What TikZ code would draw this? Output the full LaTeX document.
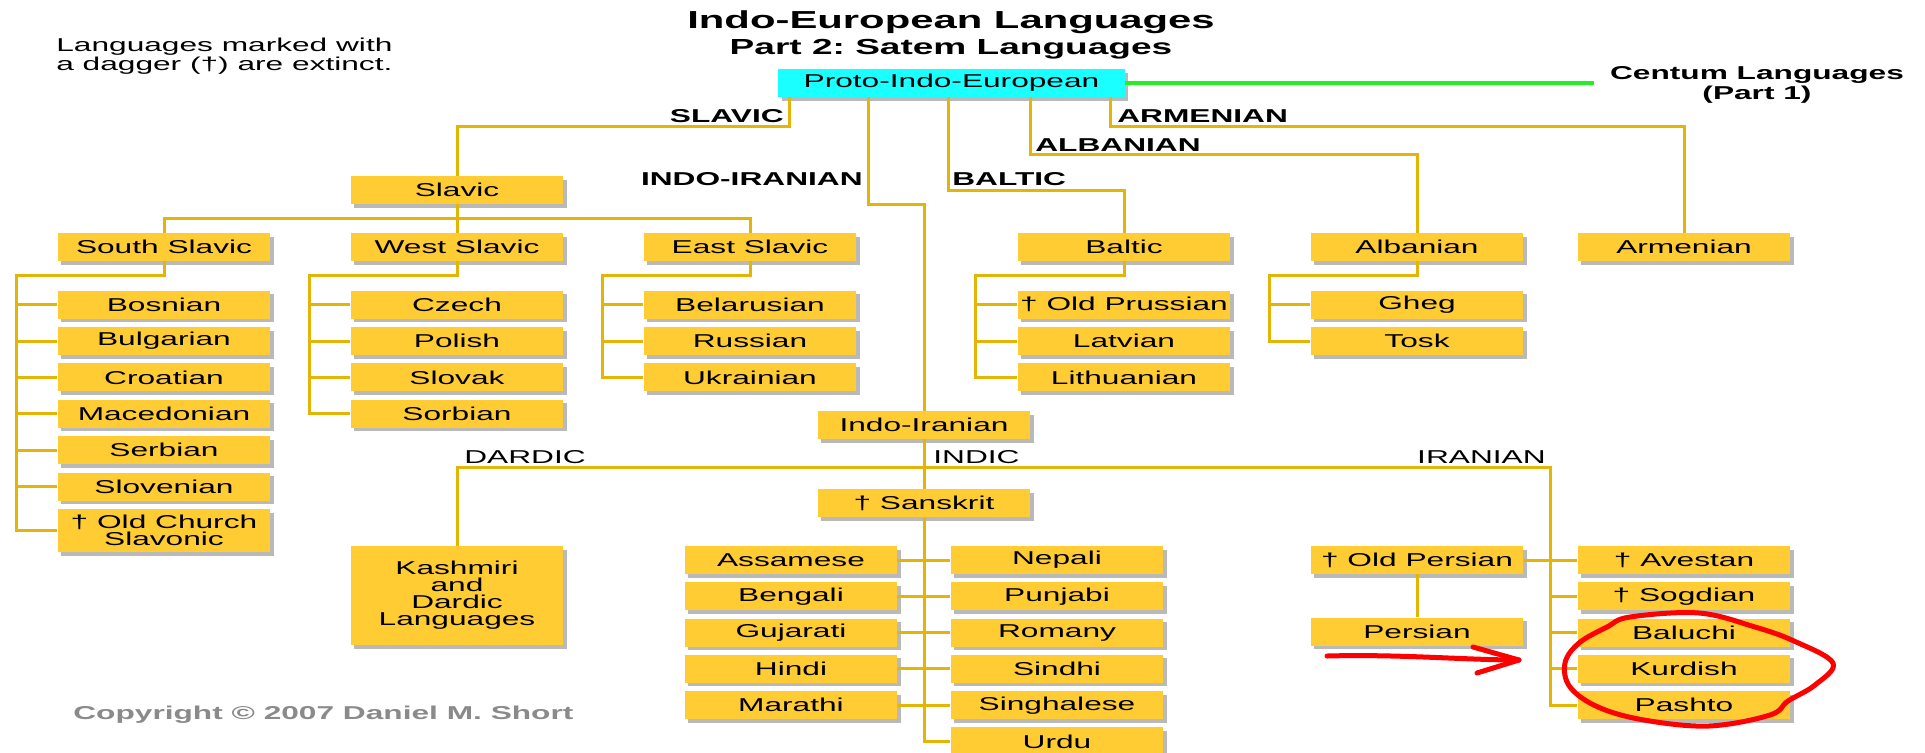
\documentclass[tikz,border=0pt]{standalone}
\usepackage{fontspec}
\setmainfont{Liberation Sans}[FakeStretch=1.7]
\usepackage{tikz}
\usetikzlibrary{positioning, shadows}
\definecolor{boxgold}{HTML}{FFCC33}
\definecolor{linegold}{HTML}{E3B507}
\definecolor{shadowgray}{HTML}{B9B9B9}
\definecolor{protocyan}{HTML}{1AFFFF}
\definecolor{centumgreen}{HTML}{22F022}
\definecolor{notegray}{HTML}{8A8A8A}
\newcommand{\labelsize}{\fontsize{10.6}{9.7}\selectfont}
\frenchspacing

\begin{document}
\begin{tikzpicture}[
    x=0.02cm, y=-0.02cm,
    font=\labelsize,
    lang/.style={fill=boxgold, align=center, inner sep=0pt, minimum width=4.26cm, minimum height=0.56cm,
        drop shadow={shadow xshift=0.07cm, shadow yshift=-0.07cm, fill=shadowgray, opacity=1}},
    protobox/.style={lang, fill=protocyan, minimum width=6.94cm},
    grouplabel/.style={inner sep=0pt, font=\labelsize\bfseries},
    sublabel/.style={inner sep=0pt},
    link/.style={draw=linegold, line width=0.06cm},
    centumlink/.style={draw=centumgreen, line width=0.065cm},
    redmark/.style={draw=red, line width=0.1cm, line cap=round, line join=round}
]
\path[use as bounding box, fill=white] (0,0) rectangle (1925,752);

% headings
\node[anchor=base, font=\fontsize{14}{14}\selectfont\bfseries] (title) at (951,28) {Indo-European Languages};
\node[anchor=base, font=\fontsize{12.4}{12}\selectfont\bfseries] (subtitle) at (951,54) {Part 2: Satem Languages};
\node[anchor=north west, align=left, inner sep=0pt] (note) at (56,38) {Languages marked with\\a dagger (†) are extinct.};
\node[anchor=base west, inner sep=0pt, text=notegray, font=\labelsize\bfseries] (copyright) at (73,719) {Copyright © 2007 Daniel M. Short};

% root
\node[protobox] (proto) at (951.5,83) {Proto-Indo-European};
\node[align=center, inner xsep=0.32cm, font=\fontsize{10.6}{8.6}\selectfont\bfseries] (centum) at (1757,85) {Centum Languages\\(Part 1)};
\draw[centumlink] (proto.east) -- (proto.east -| centum.west);

% first level
\node[lang] (slavic) at (457,190) {Slavic};
\node[lang] (southslavic) at (164,247) {South Slavic};
\node[lang] (westslavic) at (457,247) {West Slavic};
\node[lang] (eastslavic) at (750,247) {East Slavic};
\node[lang] (baltic) at (1124,247) {Baltic};
\node[lang] (albanian) at (1417,247) {Albanian};
\node[lang] (armenian) at (1684,247) {Armenian};
\node[lang] (indoiranian) at (924,425) {Indo-Iranian};

\draw[link] ([xshift=0.24cm]proto.south west) -- ++(0,29) -| (slavic.north);
\draw[link] ([xshift=1.82cm]proto.south west) -- ++(0,107) -| (indoiranian.north);
\draw[link] ([xshift=3.42cm]proto.south west) -- ++(0,93) -| (baltic.north);
\draw[link] ([xshift=5.06cm]proto.south west) -- ++(0,57) -| (albanian.north);
\draw[link] ([xshift=-0.3cm]proto.south east) -- ++(0,29) -| (armenian.north);

\node[grouplabel, anchor=base east] (slaviclabel) at (784,122) {SLAVIC};
\node[grouplabel, anchor=base east] (indoiranianlabel) at (863,185) {INDO-IRANIAN};
\node[grouplabel, anchor=base west] (balticlabel) at (952,185) {BALTIC};
\node[grouplabel, anchor=base west] (albanianlabel) at (1035,151) {ALBANIAN};
\node[grouplabel, anchor=base west] (armenianlabel) at (1117,122) {ARMENIAN};

\draw[link] (slavic.south) -- ++(0,14) coordinate (slavicfork) -| (southslavic.north);
\draw[link] (slavicfork) -| (eastslavic.north);
\draw[link] (slavic.south) -- (westslavic.north);

% slavic
\node[lang, below=0.58cm of southslavic] (bosnian) {Bosnian};
\node[lang, below=0.154cm of bosnian] (bulgarian) {Bulgarian};
\node[lang, below=0.154cm of bulgarian] (croatian) {Croatian};
\node[lang, below=0.154cm of croatian] (macedonian) {Macedonian};
\node[lang, below=0.154cm of macedonian] (serbian) {Serbian};
\node[lang, below=0.154cm of serbian] (slovenian) {Slovenian};
\node[lang, below=0.154cm of slovenian, minimum height=0.86cm] (churchslavonic) {† Old Church\\Slavonic};

\node[lang, below=0.58cm of westslavic] (czech) {Czech};
\node[lang, below=0.154cm of czech] (polish) {Polish};
\node[lang, below=0.154cm of polish] (slovak) {Slovak};
\node[lang, below=0.154cm of slovak] (sorbian) {Sorbian};

\node[lang, below=0.58cm of eastslavic] (belarusian) {Belarusian};
\node[lang, below=0.154cm of belarusian] (russian) {Russian};
\node[lang, below=0.154cm of russian] (ukrainian) {Ukrainian};

\draw[link] (southslavic.south) -- ++(0,14) -| ([xshift=-0.82cm]churchslavonic.west) -- (churchslavonic.west);
\draw[link] (bosnian.west) -- ++(-41,0) (bulgarian.west) -- ++(-41,0) (croatian.west) -- ++(-41,0)
    (macedonian.west) -- ++(-41,0) (serbian.west) -- ++(-41,0) (slovenian.west) -- ++(-41,0);
\draw[link] (westslavic.south) -- ++(0,14) -| ([xshift=-0.82cm]sorbian.west) -- (sorbian.west);
\draw[link] (czech.west) -- ++(-41,0) (polish.west) -- ++(-41,0) (slovak.west) -- ++(-41,0);
\draw[link] (eastslavic.south) -- ++(0,14) -| ([xshift=-0.82cm]ukrainian.west) -- (ukrainian.west);
\draw[link] (belarusian.west) -- ++(-41,0) (russian.west) -- ++(-41,0);

% baltic and albanian
\node[lang, below=0.58cm of baltic] (oldprussian) {† Old Prussian};
\node[lang, below=0.154cm of oldprussian] (latvian) {Latvian};
\node[lang, below=0.154cm of latvian] (lithuanian) {Lithuanian};
\node[lang, below=0.58cm of albanian] (gheg) {Gheg};
\node[lang, below=0.154cm of gheg] (tosk) {Tosk};

\draw[link] (baltic.south) -- ++(0,14) -| ([xshift=-0.84cm]lithuanian.west) -- (lithuanian.west);
\draw[link] (oldprussian.west) -- ++(-42,0) (latvian.west) -- ++(-42,0);
\draw[link] (albanian.south) -- ++(0,14) -| ([xshift=-0.82cm]tosk.west) -- (tosk.west);
\draw[link] (gheg.west) -- ++(-41,0);

% indo-iranian
\node[lang, below=0.99cm of indoiranian] (sanskrit) {† Sanskrit};
\node[lang, minimum height=1.98cm] (kashmiri) at (457,595.5) {Kashmiri\\and\\Dardic\\Languages};

\node[lang] (assamese) at (791,560) {Assamese};
\node[lang, below=0.152cm of assamese] (bengali) {Bengali};
\node[lang, below=0.152cm of bengali] (gujarati) {Gujarati};
\node[lang, below=0.152cm of gujarati] (hindi) {Hindi};
\node[lang, below=0.152cm of hindi] (marathi) {Marathi};
\node[lang] (nepali) at (1057,560) {Nepali};
\node[lang, below=0.152cm of nepali] (punjabi) {Punjabi};
\node[lang, below=0.152cm of punjabi] (romany) {Romany};
\node[lang, below=0.152cm of romany] (sindhi) {Sindhi};
\node[lang, below=0.152cm of sindhi] (singhalese) {Singhalese};
\node[lang, below=0.152cm of singhalese] (urdu) {Urdu};

\node[lang] (oldpersian) at (1417,560) {† Old Persian};
\node[lang, below=0.86cm of oldpersian] (persian) {Persian};
\node[lang] (avestan) at (1684,560) {† Avestan};
\node[lang, below=0.152cm of avestan] (sogdian) {† Sogdian};
\node[lang, below=0.152cm of sogdian] (baluchi) {Baluchi};
\node[lang, below=0.152cm of baluchi] (kurdish) {Kurdish};
\node[lang, below=0.152cm of kurdish] (pashto) {Pashto};

\draw[link] (indoiranian.south) -- ++(0,28) coordinate (iifork) -| (kashmiri.north);
\draw[link] (iifork) -- (sanskrit.north);
\draw[link] (iifork) -| ([xshift=-0.54cm]pashto.west) -- (pashto.west);

\node[sublabel, anchor=base west] (dardiclabel) at (464,463) {DARDIC};
\node[sublabel, anchor=base west] (indiclabel) at (933,463) {INDIC};
\node[sublabel, anchor=base east] (iranianlabel) at (1546,463) {IRANIAN};

\draw[link] (sanskrit.south) |- (urdu.west);
\draw[link] (assamese.east) -- (nepali.west) (bengali.east) -- (punjabi.west) (gujarati.east) -- (romany.west)
    (hindi.east) -- (sindhi.west) (marathi.east) -- (singhalese.west);

\draw[link] (oldpersian) -- (persian);
\draw[link] (oldpersian.east) -- (avestan.west);
\draw[link] (sogdian.west) -- ++(-27,0) (baluchi.west) -- ++(-27,0) (kurdish.west) -- ++(-27,0);

% red marks
\coordinate (arrowtail) at (1327,656);
\coordinate (arrowtip) at (1519,660);
\draw[redmark] (arrowtail) .. controls (1400,654) and (1465,660) .. (arrowtip);
\draw[redmark] (1473,647) -- (arrowtip) -- (1477,673);
\draw[redmark] plot[smooth cycle, tension=0.6] coordinates {(1630,617) (1699,613) (1755,627) (1794,641)
    (1833,663) (1815,685) (1788,701) (1770,715) (1709,726) (1644,720) (1598,707) (1570,687)
    (1565,663) (1579,643) (1607,627)};
\end{tikzpicture}
\end{document}
